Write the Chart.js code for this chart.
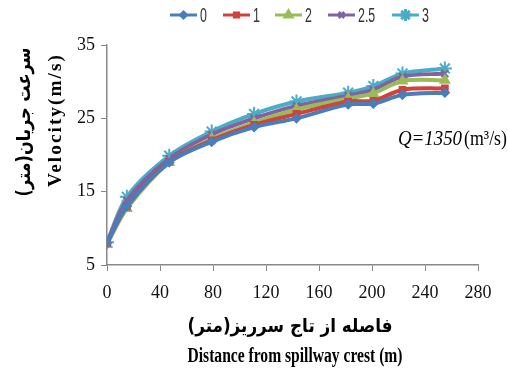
<!DOCTYPE html>
<html>
<head>
<meta charset="utf-8">
<script src="https://cdn.jsdelivr.net/npm/chart.js@4"></script>
<style>
  body { margin: 0; background: #fff; }
  #wrap { width: 508px; height: 372px; position: relative; }
</style>
</head>
<body>
<div id="wrap"><canvas id="velChart"></canvas></div>
<script>
// distance from spillway crest (m)
const distance = [0, 15, 47, 79, 111, 143, 182, 201, 223, 255];

const seriesNames = ['0', '1', '2', '2.5', '3'];
const v0  = [8.0, 13.0, 19.0, 21.8, 23.8, 25.0, 26.9, 27.0, 28.2, 28.5];
const v1  = [8.0, 13.0, 19.1, 22.0, 24.1, 25.6, 27.3, 27.4, 28.9, 29.1];
const v2  = [7.8, 12.7, 19.0, 22.2, 24.4, 26.2, 27.7, 28.4, 30.1, 30.2];
const v25 = [8.1, 13.8, 19.5, 22.8, 25.0, 26.7, 28.1, 28.9, 30.7, 31.1];
const v3  = [8.1, 14.3, 19.9, 23.2, 25.6, 27.3, 28.5, 29.4, 31.1, 31.8];

const yTicks = [5, 15, 25, 35];
const xTicks = [0, 40, 80, 120, 160, 200, 240, 280];

const colors = ['#4a7ebb', '#d0423c', '#9bbb59', '#8064a2', '#4bacc6'];
const markers = ['rectRot', 'rect', 'triangle', 'crossRot', 'star'];
const radii = [4, 4, 5, 5, 7];

const allValues = [v0, v1, v2, v25, v3];

const datasets = allValues.map((vals, i) => ({
  label: seriesNames[i],
  data: vals.map((v, j) => ({ x: distance[j], y: v })),
  borderColor: colors[i],
  backgroundColor: colors[i],
  pointBorderColor: colors[i],
  pointBackgroundColor: colors[i],
  pointStyle: markers[i],
  pointRadius: radii[i],
  pointBorderWidth: 2,
  borderWidth: 4,
  tension: 0.3,
  fill: false
}));

const serif = '"Liberation Serif", "Times New Roman", serif';

// draw text squeezed horizontally to a given width (condensed look)
function squeezed(ctx, text, cx, cy, font, width, align) {
  ctx.font = font;
  const w = ctx.measureText(text).width;
  const s = width / w;
  ctx.save();
  ctx.translate(cx, cy);
  ctx.scale(s, 1);
  ctx.textAlign = align || 'center';
  ctx.fillText(text, 0, 0);
  ctx.restore();
}

const extras = {
  id: 'extras',
  afterDraw(chart) {
    const ctx = chart.ctx;
    ctx.save();
    ctx.textBaseline = 'middle';

    // legend: line + marker + label
    const legendX = [170, 223, 275, 328, 392];
    const y = 15;
    const legFont = '20px "Liberation Sans", sans-serif';
    seriesNames.forEach((name, i) => {
      const x = legendX[i];
      ctx.strokeStyle = colors[i];
      ctx.lineWidth = 3;
      ctx.beginPath();
      ctx.moveTo(x, y);
      ctx.lineTo(x + 27, y);
      ctx.stroke();
      ctx.fillStyle = colors[i];
      Chart.helpers.drawPoint(ctx, {
        pointStyle: markers[i], radius: radii[i] - 1, borderWidth: 2
      }, x + 13.5, y);
      ctx.fillStyle = '#333';
      ctx.font = legFont;
      const w = ctx.measureText(name).width * 0.62;
      squeezed(ctx, name, x + 30, y + 1, legFont, w, 'left');
    });

    // y-axis titles (rotated)
    ctx.fillStyle = '#000';
    ctx.save();
    ctx.translate(25, 122);
    ctx.rotate(-Math.PI / 2);
    squeezed(ctx, 'سرعت جریان(متر)', 0, 0, 'bold 19px "DejaVu Sans", sans-serif', 149);
    ctx.restore();

    ctx.save();
    ctx.translate(56, 120);
    ctx.rotate(-Math.PI / 2);
    ctx.letterSpacing = '2px';
    squeezed(ctx, 'Velocity(m/s)', 0, 0, 'bold 19px ' + serif, 134);
    ctx.restore();
    ctx.letterSpacing = '0px';

    // x-axis titles
    squeezed(ctx, 'فاصله از تاج سرریز(متر)', 290, 327, 'bold 19px "DejaVu Sans", sans-serif', 205);
    squeezed(ctx, 'Distance from spillway crest (m)', 295, 357, 'bold 20px ' + serif, 215);

    // discharge annotation
    squeezed(ctx, 'Q=1350', 398, 139, 'italic 21px ' + serif, 64, 'left');
    squeezed(ctx, '(m³/s)', 464, 139, '21px ' + serif, 43, 'left');

    ctx.restore();
  }
};

new Chart(document.getElementById('velChart'), {
  type: 'line',
  data: { datasets: datasets },
  options: {
    responsive: true,
    maintainAspectRatio: false,
    animation: false,
    layout: { padding: { left: 0, right: 30, top: 45, bottom: 0 } },
    plugins: {
      legend: { display: false },
      tooltip: { enabled: false }
    },
    scales: {
      x: {
        type: 'linear',
        min: 0,
        max: 280,
        afterBuildTicks(scale) { scale.ticks = xTicks.map(v => ({ value: v })); },
        afterFit(scale) { scale.height = 107; },
        grid: { drawOnChartArea: false, color: '#888', tickLength: 6 },
        border: { color: '#888', width: 1.5 },
        ticks: { color: '#111', font: { family: serif, size: 18 }, padding: 11, maxRotation: 0 }
      },
      y: {
        min: 5,
        max: 35,
        afterBuildTicks(scale) { scale.ticks = yTicks.map(v => ({ value: v })); },
        afterFit(scale) { scale.width = 107; },
        grid: { drawOnChartArea: false, color: '#888', tickLength: 6 },
        border: { color: '#888', width: 1.5 },
        ticks: { color: '#111', font: { family: serif, size: 18 }, padding: 6 }
      }
    }
  },
  plugins: [extras]
});
</script>
</body>
</html>
